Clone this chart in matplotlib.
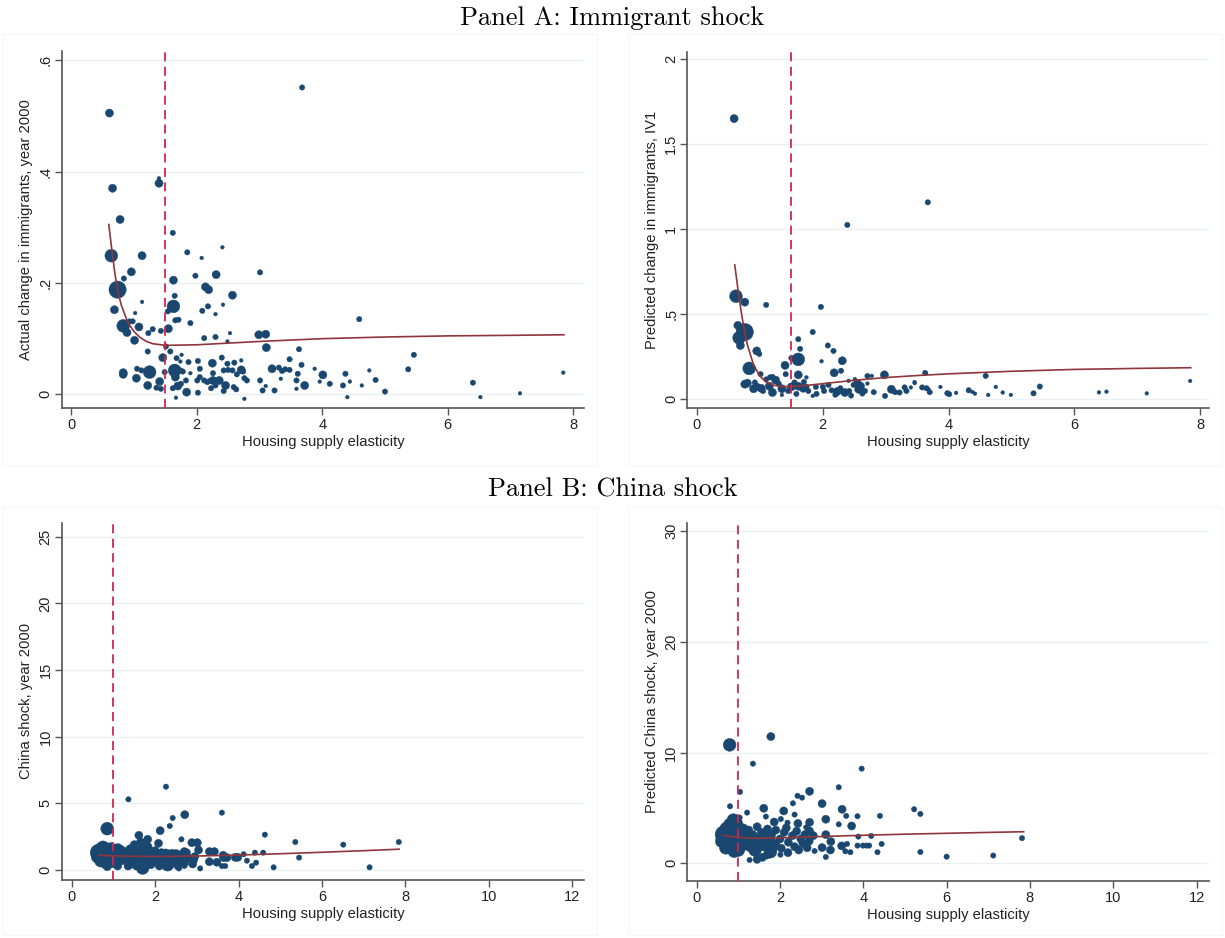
import numpy as np
import matplotlib.pyplot as plt
from matplotlib.patches import Rectangle

plt.rcParams['font.family'] = ['Liberation Sans', 'DejaVu Sans']

W, H = 1225, 938

# ---------------- data ----------------
# Panel A, left: actual change in immigrants
a1_x = [0.61, 3.68, 0.66, 1.40, 1.40, 0.78, 0.64, 1.62, 1.13, 1.85, 2.08, 2.41, 0.96, 0.84, 3.01,
        2.31, 1.98, 1.63, 0.74, 2.14, 2.19, 2.57, 1.65, 1.13, 1.63, 0.69, 2.18, 2.42, 2.09, 2.30,
        1.02, 1.54, 1.66, 1.71, 1.90, 0.83, 0.89, 0.93, 0.98, 1.08, 1.30, 1.23, 1.43, 1.55, 2.53,
        1.01, 2.12, 2.30, 2.49, 2.99, 3.10, 3.11, 3.63, 4.59, 1.51, 1.58, 1.46, 1.22, 1.68, 1.76,
        1.74, 1.87, 2.02, 2.25, 2.40, 2.49, 2.60, 2.71, 3.48, 3.67, 0.83, 0.83, 1.05, 1.12, 1.25,
        1.04, 1.41, 1.49, 1.65, 1.66, 1.74, 1.78, 1.83, 1.90, 2.01, 2.05, 2.05, 2.12, 2.17, 2.21,
        2.26, 2.26, 2.36, 2.43, 2.50, 2.57, 2.64, 2.71, 2.74, 2.76, 2.80, 2.46, 2.59, 2.63, 1.22,
        1.36, 1.43, 1.62, 1.70, 1.75, 1.84, 2.02, 2.23, 2.30, 2.43, 1.67, 2.76, 3.01, 3.05, 3.10,
        3.24, 3.20, 3.31, 3.36, 3.41, 3.48, 3.34, 3.59, 3.61, 3.59, 3.72, 3.88, 4.01, 3.96, 4.12,
        4.37, 4.44, 4.33, 4.40, 4.63, 4.75, 4.85, 5.00, 5.46, 5.37, 6.40, 6.52, 7.15, 7.84]
a1_y = [0.505, 0.551, 0.370, 0.388, 0.379, 0.314, 0.249, 0.290, 0.249, 0.255, 0.245, 0.264, 0.220, 0.208, 0.219,
        0.215, 0.213, 0.205, 0.188, 0.193, 0.188, 0.178, 0.177, 0.166, 0.158, 0.152, 0.158, 0.161, 0.150, 0.144,
        0.146, 0.149, 0.133, 0.134, 0.128, 0.123, 0.111, 0.131, 0.131, 0.121, 0.117, 0.110, 0.114, 0.118, 0.110,
        0.097, 0.101, 0.103, 0.095, 0.107, 0.108, 0.084, 0.081, 0.135, 0.086, 0.077, 0.066, 0.077, 0.065, 0.071,
        0.059, 0.058, 0.060, 0.056, 0.066, 0.055, 0.057, 0.061, 0.063, 0.053, 0.039, 0.036, 0.046, 0.043, 0.040,
        0.029, 0.023, 0.040, 0.043, 0.031, 0.043, 0.041, 0.025, 0.038, 0.025, 0.031, 0.046, 0.025, 0.022, 0.024,
        0.025, 0.038, 0.025, 0.043, 0.044, 0.043, 0.036, 0.044, 0.041, 0.029, 0.025, 0.016, 0.013, 0.009, 0.016,
        0.012, 0.010, 0.011, 0.015, 0.019, 0.004, 0.003, 0.011, 0.016, 0.006, -0.006, -0.008, 0.025, 0.007, 0.015,
        0.007, 0.046, 0.048, 0.042, 0.045, 0.044, 0.028, 0.025, 0.037, 0.010, 0.016, 0.046, 0.035, 0.023, 0.019,
        0.037, 0.023, 0.016, -0.005, 0.016, 0.043, 0.026, 0.005, 0.071, 0.045, 0.021, -0.005, 0.002, 0.039]
a1_w = [3, 2, 3, 1, 3, 3, 4, 2, 3, 2, 1, 1, 3, 2, 2,
        3, 2, 3, 5, 3, 3, 3, 2, 1, 4, 3, 2, 1, 2, 1,
        1, 2, 2, 2, 2, 4, 3, 2, 2, 3, 2, 2, 2, 3, 1,
        3, 2, 2, 1, 3, 3, 3, 2, 2, 2, 2, 3, 2, 2, 1,
        1, 2, 2, 3, 2, 2, 2, 1, 2, 2, 3, 3, 2, 2, 4,
        3, 3, 2, 4, 3, 2, 2, 2, 1, 2, 2, 2, 2, 2, 2,
        3, 2, 3, 2, 2, 2, 2, 3, 2, 2, 2, 3, 2, 2, 3,
        2, 2, 2, 3, 2, 3, 2, 2, 2, 2, 1, 1, 2, 2, 1,
        2, 3, 2, 2, 2, 2, 1, 2, 2, 1, 3, 1, 3, 1, 2,
        2, 1, 2, 1, 1, 1, 2, 2, 2, 2, 2, 1, 1, 1]
a1_fit_x = [0.60, 0.65, 0.70, 0.75, 0.80, 0.90, 1.00, 1.10, 1.20, 1.30, 1.50, 2.00, 3.00, 4.00, 5.00, 6.00, 7.00, 7.85]
a1_fit_y = [0.305, 0.258, 0.215, 0.182, 0.160, 0.130, 0.113, 0.102, 0.095, 0.091, 0.088, 0.089, 0.095, 0.100, 0.103, 0.105, 0.106, 0.107]

# Panel A, right: predicted change in immigrants (IV1)
a2_x = [0.59, 3.67, 2.39, 0.62, 0.76, 1.10, 1.97, 0.76, 0.65, 0.67, 0.69, 1.84, 1.61, 2.08, 2.17,
        0.95, 0.99, 1.64, 1.50, 1.61, 1.98, 2.31, 1.40, 0.83, 2.18, 2.29, 1.61, 1.41, 1.01, 1.16,
        1.20, 1.25, 1.10, 2.98, 3.63, 4.59, 1.74, 0.76, 0.80, 0.92, 1.02, 1.05, 1.20, 0.96, 1.35,
        1.45, 1.50, 1.61, 1.55, 1.69, 1.74, 1.77, 1.84, 1.89, 2.00, 2.02, 2.09, 2.14, 2.23, 2.28,
        2.35, 2.41, 2.42, 2.51, 2.49, 2.55, 2.57, 2.63, 2.67, 2.71, 2.71, 2.78, 2.81, 2.99, 3.09,
        3.15, 3.22, 3.30, 3.33, 3.40, 3.46, 3.58, 3.70, 3.68, 3.87, 3.98, 4.01, 4.12, 4.32, 4.38,
        4.42, 4.63, 4.75, 4.86, 4.99, 5.45, 5.35, 6.39, 6.51, 7.15, 7.84, 3.46, 3.65, 3.62, 1.30,
        1.15, 1.35, 1.58, 1.90, 2.20, 2.45, 2.60, 0.90, 1.70]
a2_y = [1.651, 1.158, 1.025, 0.605, 0.570, 0.554, 0.542, 0.394, 0.433, 0.360, 0.315, 0.394, 0.352, 0.315, 0.283,
        0.283, 0.265, 0.295, 0.241, 0.233, 0.222, 0.225, 0.198, 0.180, 0.154, 0.166, 0.142, 0.146, 0.146, 0.127,
        0.130, 0.111, 0.115, 0.142, 0.152, 0.136, 0.127, 0.087, 0.093, 0.097, 0.063, 0.047, 0.038, 0.077, 0.024,
        0.047, 0.071, 0.075, 0.097, 0.063, 0.071, 0.047, 0.018, 0.071, 0.071, 0.047, 0.083, 0.051, 0.044, 0.063,
        0.038, 0.107, 0.047, 0.117, 0.083, 0.091, 0.057, 0.032, 0.047, 0.135, 0.091, 0.136, 0.040, 0.018, 0.057,
        0.040, 0.038, 0.068, 0.047, 0.068, 0.093, 0.068, 0.040, 0.057, 0.071, 0.034, 0.028, 0.036, 0.051, 0.041,
        0.031, 0.024, 0.071, 0.038, 0.024, 0.073, 0.033, 0.039, 0.043, 0.033, 0.106, 0.100, 0.063, 0.157, 0.090,
        0.075, 0.060, 0.030, 0.030, 0.025, 0.020, 0.075, 0.060, 0.100]
a2_w = [3, 2, 2, 4, 3, 2, 2, 5, 3, 4, 3, 2, 2, 2, 2,
        3, 2, 2, 2, 4, 1, 3, 3, 4, 3, 2, 3, 2, 2, 2,
        2, 3, 2, 3, 2, 2, 1, 3, 3, 2, 3, 2, 3, 2, 1,
        2, 3, 3, 2, 3, 2, 2, 1, 2, 2, 2, 2, 2, 3, 2,
        3, 1, 2, 1, 2, 3, 3, 2, 2, 2, 1, 1, 2, 2, 3,
        2, 2, 2, 2, 1, 1, 2, 2, 1, 1, 2, 2, 1, 2, 1,
        1, 1, 1, 1, 1, 2, 2, 1, 1, 1, 1, 1, 2, 1, 2,
        3, 3, 2, 2, 2, 2, 3, 3, 2]
a2_fit_x = [0.60, 0.65, 0.70, 0.75, 0.80, 0.90, 1.00, 1.10, 1.20, 1.30, 1.40, 1.60, 1.80, 2.00, 2.50, 3.00, 3.50, 4.00, 5.00, 6.00, 7.00, 7.85]
a2_fit_y = [0.79, 0.65, 0.52, 0.41, 0.32, 0.20, 0.135, 0.100, 0.083, 0.075, 0.072, 0.075, 0.082, 0.090, 0.110, 0.126, 0.138, 0.148, 0.163, 0.174, 0.180, 0.184]

# Panel B, left: China shock
b1_x = [0.85, 1.36, 2.26, 3.60, 2.71, 2.42, 2.35, 2.12, 1.61, 2.63, 1.82, 1.70, 1.50, 1.65, 4.63,
        5.36, 6.51, 7.84, 2.88, 3.01, 2.08, 1.83, 3.04, 3.30, 3.42, 2.70, 4.59, 4.39, 4.12, 3.98,
        3.92, 3.64, 3.72, 3.63, 5.45, 4.20, 4.42, 4.32, 4.84, 7.14, 3.60, 3.68, 3.48, 3.30, 3.08,
        2.92, 2.70, 2.57,
        0.65, 0.70, 0.75, 0.80, 0.85, 0.90, 0.95, 1.00, 1.05, 1.10, 0.70, 0.80, 0.90, 0.62, 1.15,
        0.75, 0.95, 1.00, 0.85, 1.20, 1.20, 1.10,
        1.30, 1.40, 1.45, 1.50, 1.55, 1.60, 1.65, 1.70, 1.75, 1.80, 1.90, 1.95, 2.00, 2.05, 2.10,
        2.15, 2.20, 2.25, 2.30, 2.35, 2.40, 2.45, 2.50, 2.55, 2.60, 2.65, 2.70, 2.75, 2.80, 1.35,
        1.85, 1.55, 2.90, 2.95, 1.25, 1.40, 1.70, 2.00]
b1_y = [3.10, 5.30, 6.25, 4.30, 4.15, 3.90, 3.30, 2.95, 2.60, 2.30, 2.30, 2.00, 1.90, 2.10, 2.65,
        2.10, 1.90, 2.10, 2.05, 2.05, 2.00, 1.75, 1.50, 1.38, 1.38, 1.38, 1.30, 1.30, 1.18, 0.95,
        0.95, 0.93, 0.93, 1.10, 0.93, 0.70, 0.55, 0.30, 0.20, 0.20, 0.30, 0.30, 0.58, 0.62, 0.12,
        0.75, 0.30, 0.12,
        1.30, 1.10, 1.45, 0.90, 1.25, 1.55, 1.00, 1.35, 0.80, 1.50, 0.70, 0.40, 0.60, 1.00, 1.10,
        1.70, 1.75, 0.50, 0.25, 0.70, 1.50, 0.30,
        1.20, 0.60, 1.35, 0.90, 0.30, 1.10, 0.50, 0.15, 1.30, 0.80, 0.40, 1.15, 0.60, 1.00, 0.30,
        1.30, 0.75, 1.10, 0.40, 0.90, 1.25, 0.60, 1.05, 0.30, 0.80, 1.15, 0.50, 1.30, 0.90, 0.30,
        1.50, 1.55, 0.45, 1.00, 0.90, 1.60, 1.60, 1.45]
b1_w = [4, 2, 2, 2, 3, 2, 2, 3, 3, 2, 3, 3, 3, 3, 2,
        2, 2, 2, 3, 3, 3, 3, 3, 3, 3, 3, 2, 2, 2, 3,
        3, 3, 3, 3, 2, 2, 2, 2, 2, 2, 2, 2, 3, 3, 2,
        3, 2, 2,
        5, 5, 5, 5, 5, 4, 5, 4, 4, 4, 4, 3, 4, 4, 4,
        4, 3, 3, 3, 3, 3, 3,
        4, 4, 3, 4, 3, 4, 4, 4, 3, 4, 3, 3, 3, 4, 3,
        3, 4, 4, 4, 4, 3, 3, 4, 3, 3, 3, 3, 3, 3, 3,
        3, 3, 3, 3, 3, 3, 3, 3]
b1_fit_x = [0.65, 1.00, 1.50, 2.00, 2.50, 3.00, 4.00, 5.00, 6.00, 7.00, 7.85]
b1_fit_y = [1.10, 1.06, 1.03, 1.02, 1.03, 1.05, 1.12, 1.22, 1.33, 1.45, 1.56]

# Panel B, right: predicted China shock
b2_x = [0.79, 1.78, 1.35, 3.96, 1.04, 3.41, 2.71, 2.42, 2.53, 0.80, 1.61, 2.31, 3.01, 1.21, 2.09,
        2.35, 1.66, 3.49, 3.59, 3.86, 4.40, 5.22, 5.37, 1.03, 2.02, 2.18, 1.86, 2.43, 2.71, 3.10,
        3.41, 3.72, 2.63, 2.71, 3.10, 3.88, 4.19, 3.22, 3.48, 3.61, 3.86, 3.99, 4.07, 4.14, 4.44,
        3.01, 3.21, 3.10, 3.57, 3.69, 4.34, 5.37, 6.00, 7.12, 7.81, 2.83,
        0.65, 0.70, 0.75, 0.80, 0.85, 0.90, 0.95, 1.00, 1.05, 0.70, 0.80, 0.90, 1.10, 1.10, 0.60,
        0.95, 1.00, 0.88,
        1.27, 1.45, 1.58, 1.69, 2.01, 2.19, 2.03, 1.85, 1.77, 1.90, 1.20, 1.30, 1.35, 1.40, 1.50,
        1.55, 1.60, 1.65, 1.70, 1.75, 1.80, 2.00, 2.10, 2.20, 2.30, 2.35, 2.40, 2.50, 2.55, 2.60,
        2.70, 2.80, 2.45, 2.65, 2.15, 1.25, 1.45, 1.90]
b2_y = [10.70, 11.45, 9.00, 8.55, 6.45, 6.87, 6.50, 6.10, 5.93, 5.15, 4.97, 5.42, 5.39, 4.58, 4.73,
        4.40, 4.22, 4.88, 4.28, 4.25, 4.28, 4.88, 4.46, 4.13, 4.00, 3.67, 3.73, 3.60, 3.70, 3.98,
        3.52, 3.37, 3.25, 2.92, 2.59, 2.41, 2.47, 1.96, 1.57, 1.75, 1.60, 1.60, 1.60, 1.60, 1.75,
        1.42, 1.20, 0.57, 1.08, 1.00, 1.00, 1.02, 0.60, 0.70, 2.27, 1.11,
        2.60, 2.20, 3.00, 1.80, 2.50, 3.30, 1.50, 2.10, 2.80, 1.40, 3.50, 1.10, 1.70, 3.00, 2.00,
        3.60, 1.20, 3.90,
        0.30, 0.36, 0.54, 0.75, 0.78, 0.96, 1.36, 1.45, 1.05, 1.75, 2.20, 1.60, 2.60, 1.20, 2.10,
        2.80, 1.70, 2.40, 3.10, 1.90, 2.60, 2.20, 2.80, 1.90, 2.50, 1.50, 2.90, 2.20, 1.80, 2.60,
        2.00, 2.50, 1.20, 1.40, 3.20, 3.00, 3.30, 3.00]
b2_w = [4, 3, 2, 2, 2, 2, 3, 2, 2, 2, 3, 2, 3, 2, 3,
        2, 2, 3, 2, 2, 2, 2, 2, 2, 2, 2, 3, 3, 3, 3,
        2, 3, 2, 3, 3, 2, 2, 3, 3, 2, 2, 2, 2, 2, 2,
        3, 3, 2, 2, 2, 2, 2, 2, 2, 2, 2,
        5, 5, 5, 5, 5, 4, 5, 5, 4, 4, 4, 4, 4, 4, 4,
        4, 4, 4,
        2, 3, 3, 3, 2, 3, 3, 3, 4, 3, 4, 4, 3, 4, 4,
        3, 4, 4, 3, 4, 3, 3, 3, 3, 3, 3, 3, 3, 3, 3,
        3, 3, 3, 3, 3, 3, 3, 3]
b2_fit_x = [0.65, 0.80, 1.00, 1.30, 1.60, 2.00, 3.00, 4.00, 5.00, 6.00, 7.00, 7.85]
b2_fit_y = [2.55, 2.42, 2.33, 2.27, 2.26, 2.30, 2.42, 2.53, 2.63, 2.71, 2.79, 2.85]

# ---------------- styling ----------------
navy = '#1a476f'
maroon = '#90353b'
cut_red = '#d0284d'
grid_c = '#e9f1f2'
axis_c = '#555555'
area = {1: 7, 2: 15, 3: 34, 4: 85, 5: 155}

fig = plt.figure(figsize=(W / 100, H / 100), dpi=100)


def px_axes(l, t, r, b):
    return fig.add_axes([l / W, 1 - b / H, (r - l) / W, (b - t) / H])


# faint graph-region frames
for (l, t, r, b) in [(3, 34, 597, 466), (628, 34, 1222, 466), (3, 507, 597, 935), (628, 507, 1222, 935)]:
    fig.patches.append(Rectangle((l / W, 1 - b / H), (r - l) / W, (b - t) / H, transform=fig.transFigure,
                                 fill=False, ec='#f6f6f6', lw=0.8, zorder=0))


def panel(ax, x, y, w, fx, fy, cut, xlim, ylim, xt, yt, ytl, ylab):
    ax.set_xlim(*xlim)
    ax.set_ylim(*ylim)
    for v in yt:
        ax.axhline(v, color=grid_c, lw=1.0, zorder=0)
    ax.scatter(x, y, s=[area[k] for k in w], c=navy, edgecolors=navy, linewidths=0.3, zorder=2)
    ax.plot(fx, fy, color=maroon, lw=1.2, zorder=3)
    ax.axvline(cut, color=cut_red, lw=1.3, dashes=(5, 3), zorder=4)
    ax.set_xticks(xt)
    ax.set_xticklabels([str(v) for v in xt], fontsize=10.5)
    ax.set_yticks(yt)
    ax.set_yticklabels(ytl, fontsize=10.5, rotation=90, va='center')
    for s in ['top', 'right']:
        ax.spines[s].set_visible(False)
    for s in ['left', 'bottom']:
        ax.spines[s].set_color(axis_c)
        ax.spines[s].set_linewidth(1.2)
    ax.tick_params(axis='both', direction='out', length=5, width=1.0, color=axis_c, labelcolor='#222222')
    ax.tick_params(axis='x', pad=2)
    ax.tick_params(axis='y', pad=1.5)
    ax.set_xlabel('Housing supply elasticity', fontsize=10.6, labelpad=2, color='#222222')
    ax.set_ylabel(ylab, fontsize=10.6, labelpad=4, color='#222222')


ax1 = px_axes(61.7, 50.7, 584, 408.3)
panel(ax1, a1_x, a1_y, a1_w, a1_fit_x, a1_fit_y, 1.5, (-0.15, 8.17), (-0.025, 0.617),
      [0, 2, 4, 6, 8], [0, 0.2, 0.4, 0.6], ['0', '.2', '.4', '.6'],
      'Actual change in immigrants, year 2000')

ax2 = px_axes(687.3, 51.7, 1209, 408.3)
panel(ax2, a2_x, a2_y, a2_w, a2_fit_x, a2_fit_y, 1.5, (-0.154, 8.14), (-0.055, 2.045),
      [0, 2, 4, 6, 8], [0, 0.5, 1, 1.5, 2], ['0', '.5', '1', '1.5', '2'],
      'Predicted change in immigrants, IV1')

ax3 = px_axes(61.7, 522.7, 584, 880)
panel(ax3, b1_x, b1_y, b1_w, b1_fit_x, b1_fit_y, 1.0, (-0.24, 12.28), (-0.75, 26.05),
      [0, 2, 4, 6, 8, 10, 12], [0, 5, 10, 15, 20, 25], ['0', '5', '10', '15', '20', '25'],
      'China shock, year 2000')

ax4 = px_axes(687.3, 522.7, 1209, 881)
panel(ax4, b2_x, b2_y, b2_w, b2_fit_x, b2_fit_y, 1.0, (-0.226, 12.3), (-1.6, 30.77),
      [0, 2, 4, 6, 8, 10, 12], [0, 10, 20, 30], ['0', '10', '20', '30'],
      'Predicted China shock, year 2000')

fig.text(0.5, 1 - 18 / H, 'Panel A: Immigrant shock', ha='center', va='center', fontsize=19,
         family='cmr10')
fig.text(0.5, 1 - 490 / H, 'Panel B: China shock', ha='center', va='center', fontsize=19,
         family='cmr10')

fig.savefig('out.png', dpi=100, facecolor='white')
